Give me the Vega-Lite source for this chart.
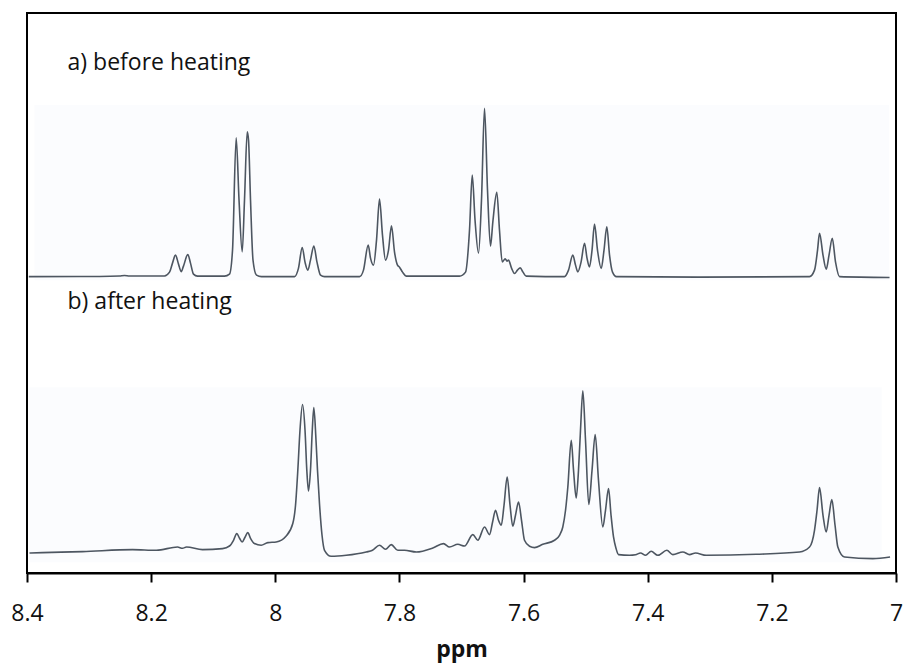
{
  "$schema": "https://vega.github.io/schema/vega-lite/v6.json",
  "width": 869,
  "height": 560,
  "autosize": {"type": "none"},
  "padding": {"left": 27, "top": 13, "right": 8, "bottom": 95},
  "background": "white",
  "config": {
    "view": {"stroke": "black", "strokeWidth": 2},
    "font": "Open Sans"
  },
  "datasets": {
    "spectra": [
      {"t": "a", "ppm": 8.3971, "v": 296.2},
      {"t": "a", "ppm": 8.2832, "v": 296.4},
      {"t": "a", "ppm": 8.2510, "v": 296.9},
      {"t": "a", "ppm": 8.2429, "v": 297.4},
      {"t": "a", "ppm": 8.2349, "v": 296.9},
      {"t": "a", "ppm": 8.1785, "v": 296.9},
      {"t": "a", "ppm": 8.1704, "v": 300.7},
      {"t": "a", "ppm": 8.1656, "v": 309.7},
      {"t": "a", "ppm": 8.1608, "v": 317.7},
      {"t": "a", "ppm": 8.1559, "v": 308.7},
      {"t": "a", "ppm": 8.1516, "v": 301.2},
      {"t": "a", "ppm": 8.1479, "v": 306.7},
      {"t": "a", "ppm": 8.1409, "v": 318.4},
      {"t": "a", "ppm": 8.1366, "v": 309.7},
      {"t": "a", "ppm": 8.1318, "v": 298.7},
      {"t": "a", "ppm": 8.1253, "v": 296.7},
      {"t": "a", "ppm": 8.0818, "v": 296.7},
      {"t": "a", "ppm": 8.0738, "v": 298.7},
      {"t": "a", "ppm": 8.0689, "v": 322.7},
      {"t": "a", "ppm": 8.0630, "v": 435.0},
      {"t": "a", "ppm": 8.0584, "v": 372.7},
      {"t": "a", "ppm": 8.0533, "v": 321.0},
      {"t": "a", "ppm": 8.0496, "v": 372.7},
      {"t": "a", "ppm": 8.0452, "v": 441.0},
      {"t": "a", "ppm": 8.0431, "v": 432.7},
      {"t": "a", "ppm": 8.0399, "v": 372.7},
      {"t": "a", "ppm": 8.0359, "v": 312.7},
      {"t": "a", "ppm": 8.0303, "v": 297.7},
      {"t": "a", "ppm": 8.0222, "v": 296.2},
      {"t": "a", "ppm": 7.9690, "v": 296.2},
      {"t": "a", "ppm": 7.9626, "v": 304.7},
      {"t": "a", "ppm": 7.9566, "v": 325.4},
      {"t": "a", "ppm": 7.9521, "v": 310.7},
      {"t": "a", "ppm": 7.9476, "v": 302.7},
      {"t": "a", "ppm": 7.9433, "v": 312.7},
      {"t": "a", "ppm": 7.9379, "v": 326.7},
      {"t": "a", "ppm": 7.9328, "v": 310.7},
      {"t": "a", "ppm": 7.9271, "v": 297.7},
      {"t": "a", "ppm": 7.9207, "v": 296.2},
      {"t": "a", "ppm": 7.8643, "v": 296.2},
      {"t": "a", "ppm": 7.8579, "v": 302.7},
      {"t": "a", "ppm": 7.8503, "v": 327.7},
      {"t": "a", "ppm": 7.8466, "v": 314.7},
      {"t": "a", "ppm": 7.8418, "v": 307.7},
      {"t": "a", "ppm": 7.8369, "v": 332.7},
      {"t": "a", "ppm": 7.8321, "v": 373.7},
      {"t": "a", "ppm": 7.8273, "v": 337.7},
      {"t": "a", "ppm": 7.8224, "v": 312.7},
      {"t": "a", "ppm": 7.8176, "v": 322.7},
      {"t": "a", "ppm": 7.8128, "v": 347.0},
      {"t": "a", "ppm": 7.8079, "v": 320.7},
      {"t": "a", "ppm": 7.8031, "v": 307.7},
      {"t": "a", "ppm": 7.7999, "v": 305.7},
      {"t": "a", "ppm": 7.7950, "v": 300.7},
      {"t": "a", "ppm": 7.7886, "v": 296.7},
      {"t": "a", "ppm": 7.7032, "v": 296.7},
      {"t": "a", "ppm": 7.6935, "v": 300.7},
      {"t": "a", "ppm": 7.6871, "v": 342.7},
      {"t": "a", "ppm": 7.6827, "v": 397.7},
      {"t": "a", "ppm": 7.6782, "v": 352.7},
      {"t": "a", "ppm": 7.6726, "v": 319.7},
      {"t": "a", "ppm": 7.6678, "v": 372.7},
      {"t": "a", "ppm": 7.6629, "v": 464.4},
      {"t": "a", "ppm": 7.6581, "v": 382.7},
      {"t": "a", "ppm": 7.6533, "v": 326.7},
      {"t": "a", "ppm": 7.6495, "v": 351.0},
      {"t": "a", "ppm": 7.6431, "v": 380.4},
      {"t": "a", "ppm": 7.6388, "v": 342.7},
      {"t": "a", "ppm": 7.6344, "v": 311.0},
      {"t": "a", "ppm": 7.6296, "v": 314.0},
      {"t": "a", "ppm": 7.6267, "v": 311.7},
      {"t": "a", "ppm": 7.6243, "v": 312.7},
      {"t": "a", "ppm": 7.6194, "v": 304.7},
      {"t": "a", "ppm": 7.6146, "v": 299.4},
      {"t": "a", "ppm": 7.6098, "v": 302.7},
      {"t": "a", "ppm": 7.6054, "v": 305.0},
      {"t": "a", "ppm": 7.6009, "v": 300.7},
      {"t": "a", "ppm": 7.5957, "v": 296.7},
      {"t": "a", "ppm": 7.5340, "v": 296.2},
      {"t": "a", "ppm": 7.5276, "v": 302.7},
      {"t": "a", "ppm": 7.5207, "v": 317.7},
      {"t": "a", "ppm": 7.5163, "v": 307.7},
      {"t": "a", "ppm": 7.5126, "v": 301.0},
      {"t": "a", "ppm": 7.5074, "v": 310.7},
      {"t": "a", "ppm": 7.5018, "v": 329.4},
      {"t": "a", "ppm": 7.4978, "v": 314.7},
      {"t": "a", "ppm": 7.4938, "v": 306.0},
      {"t": "a", "ppm": 7.4897, "v": 322.7},
      {"t": "a", "ppm": 7.4857, "v": 348.7},
      {"t": "a", "ppm": 7.4809, "v": 322.7},
      {"t": "a", "ppm": 7.4749, "v": 304.4},
      {"t": "a", "ppm": 7.4704, "v": 322.7},
      {"t": "a", "ppm": 7.4659, "v": 346.0},
      {"t": "a", "ppm": 7.4615, "v": 317.7},
      {"t": "a", "ppm": 7.4567, "v": 300.7},
      {"t": "a", "ppm": 7.4503, "v": 296.2},
      {"t": "a", "ppm": 7.3165, "v": 295.7},
      {"t": "a", "ppm": 7.1393, "v": 296.2},
      {"t": "a", "ppm": 7.1313, "v": 302.7},
      {"t": "a", "ppm": 7.1264, "v": 322.7},
      {"t": "a", "ppm": 7.1232, "v": 339.4},
      {"t": "a", "ppm": 7.1176, "v": 317.7},
      {"t": "a", "ppm": 7.1124, "v": 303.7},
      {"t": "a", "ppm": 7.1079, "v": 317.7},
      {"t": "a", "ppm": 7.1027, "v": 334.4},
      {"t": "a", "ppm": 7.0974, "v": 310.7},
      {"t": "a", "ppm": 7.0910, "v": 296.2},
      {"t": "a", "ppm": 7.0104, "v": 295.4},

      {"t": "b", "ppm": 8.3960, "v": 20.0},
      {"t": "b", "ppm": 8.3750, "v": 20.4},
      {"t": "b", "ppm": 8.3106, "v": 21.4},
      {"t": "b", "ppm": 8.2300, "v": 23.4},
      {"t": "b", "ppm": 8.1914, "v": 22.7},
      {"t": "b", "ppm": 8.1575, "v": 26.0},
      {"t": "b", "ppm": 8.1495, "v": 24.7},
      {"t": "b", "ppm": 8.1430, "v": 26.0},
      {"t": "b", "ppm": 8.1173, "v": 23.4},
      {"t": "b", "ppm": 8.0850, "v": 24.4},
      {"t": "b", "ppm": 8.0738, "v": 27.0},
      {"t": "b", "ppm": 8.0673, "v": 32.7},
      {"t": "b", "ppm": 8.0620, "v": 39.4},
      {"t": "b", "ppm": 8.0576, "v": 34.7},
      {"t": "b", "ppm": 8.0533, "v": 31.0},
      {"t": "b", "ppm": 8.0488, "v": 35.7},
      {"t": "b", "ppm": 8.0443, "v": 40.4},
      {"t": "b", "ppm": 8.0399, "v": 34.7},
      {"t": "b", "ppm": 8.0335, "v": 29.4},
      {"t": "b", "ppm": 8.0227, "v": 27.7},
      {"t": "b", "ppm": 8.0120, "v": 30.4},
      {"t": "b", "ppm": 7.9985, "v": 31.0},
      {"t": "b", "ppm": 7.9824, "v": 37.0},
      {"t": "b", "ppm": 7.9718, "v": 49.4},
      {"t": "b", "ppm": 7.9674, "v": 67.7},
      {"t": "b", "ppm": 7.9637, "v": 102.7},
      {"t": "b", "ppm": 7.9602, "v": 142.7},
      {"t": "b", "ppm": 7.9561, "v": 168.4},
      {"t": "b", "ppm": 7.9521, "v": 142.7},
      {"t": "b", "ppm": 7.9492, "v": 102.7},
      {"t": "b", "ppm": 7.9465, "v": 82.0},
      {"t": "b", "ppm": 7.9433, "v": 102.7},
      {"t": "b", "ppm": 7.9404, "v": 142.7},
      {"t": "b", "ppm": 7.9379, "v": 165.4},
      {"t": "b", "ppm": 7.9344, "v": 132.7},
      {"t": "b", "ppm": 7.9320, "v": 102.7},
      {"t": "b", "ppm": 7.9288, "v": 69.4},
      {"t": "b", "ppm": 7.9247, "v": 37.7},
      {"t": "b", "ppm": 7.9207, "v": 22.7},
      {"t": "b", "ppm": 7.9099, "v": 16.7},
      {"t": "b", "ppm": 7.8857, "v": 17.7},
      {"t": "b", "ppm": 7.8535, "v": 21.0},
      {"t": "b", "ppm": 7.8434, "v": 22.7},
      {"t": "b", "ppm": 7.8321, "v": 27.7},
      {"t": "b", "ppm": 7.8224, "v": 23.7},
      {"t": "b", "ppm": 7.8132, "v": 28.4},
      {"t": "b", "ppm": 7.8026, "v": 22.7},
      {"t": "b", "ppm": 7.7918, "v": 22.7},
      {"t": "b", "ppm": 7.7730, "v": 21.0},
      {"t": "b", "ppm": 7.7462, "v": 25.0},
      {"t": "b", "ppm": 7.7290, "v": 29.4},
      {"t": "b", "ppm": 7.7193, "v": 26.0},
      {"t": "b", "ppm": 7.7059, "v": 28.7},
      {"t": "b", "ppm": 7.6951, "v": 27.0},
      {"t": "b", "ppm": 7.6818, "v": 38.4},
      {"t": "b", "ppm": 7.6737, "v": 32.7},
      {"t": "b", "ppm": 7.6629, "v": 46.0},
      {"t": "b", "ppm": 7.6549, "v": 38.4},
      {"t": "b", "ppm": 7.6500, "v": 50.7},
      {"t": "b", "ppm": 7.6452, "v": 62.7},
      {"t": "b", "ppm": 7.6404, "v": 52.7},
      {"t": "b", "ppm": 7.6360, "v": 47.7},
      {"t": "b", "ppm": 7.6315, "v": 67.7},
      {"t": "b", "ppm": 7.6264, "v": 96.0},
      {"t": "b", "ppm": 7.6218, "v": 67.7},
      {"t": "b", "ppm": 7.6173, "v": 46.7},
      {"t": "b", "ppm": 7.6130, "v": 57.7},
      {"t": "b", "ppm": 7.6081, "v": 71.0},
      {"t": "b", "ppm": 7.6033, "v": 52.7},
      {"t": "b", "ppm": 7.5985, "v": 32.7},
      {"t": "b", "ppm": 7.5904, "v": 26.7},
      {"t": "b", "ppm": 7.5824, "v": 25.4},
      {"t": "b", "ppm": 7.5690, "v": 28.7},
      {"t": "b", "ppm": 7.5501, "v": 32.7},
      {"t": "b", "ppm": 7.5421, "v": 37.7},
      {"t": "b", "ppm": 7.5368, "v": 46.0},
      {"t": "b", "ppm": 7.5324, "v": 62.7},
      {"t": "b", "ppm": 7.5287, "v": 86.0},
      {"t": "b", "ppm": 7.5232, "v": 132.7},
      {"t": "b", "ppm": 7.5195, "v": 102.7},
      {"t": "b", "ppm": 7.5152, "v": 75.0},
      {"t": "b", "ppm": 7.5115, "v": 102.7},
      {"t": "b", "ppm": 7.5083, "v": 142.7},
      {"t": "b", "ppm": 7.5045, "v": 182.0},
      {"t": "b", "ppm": 7.5002, "v": 132.7},
      {"t": "b", "ppm": 7.4949, "v": 68.4},
      {"t": "b", "ppm": 7.4897, "v": 102.7},
      {"t": "b", "ppm": 7.4846, "v": 138.4},
      {"t": "b", "ppm": 7.4793, "v": 92.7},
      {"t": "b", "ppm": 7.4723, "v": 46.0},
      {"t": "b", "ppm": 7.4680, "v": 62.7},
      {"t": "b", "ppm": 7.4631, "v": 84.4},
      {"t": "b", "ppm": 7.4591, "v": 57.7},
      {"t": "b", "ppm": 7.4551, "v": 36.0},
      {"t": "b", "ppm": 7.4511, "v": 24.7},
      {"t": "b", "ppm": 7.4470, "v": 18.4},
      {"t": "b", "ppm": 7.4293, "v": 17.7},
      {"t": "b", "ppm": 7.4196, "v": 18.2},
      {"t": "b", "ppm": 7.4116, "v": 20.0},
      {"t": "b", "ppm": 7.4035, "v": 17.7},
      {"t": "b", "ppm": 7.3944, "v": 21.7},
      {"t": "b", "ppm": 7.3837, "v": 17.7},
      {"t": "b", "ppm": 7.3692, "v": 22.7},
      {"t": "b", "ppm": 7.3595, "v": 18.4},
      {"t": "b", "ppm": 7.3434, "v": 21.0},
      {"t": "b", "ppm": 7.3326, "v": 18.4},
      {"t": "b", "ppm": 7.3230, "v": 20.0},
      {"t": "b", "ppm": 7.3057, "v": 17.7},
      {"t": "b", "ppm": 7.2252, "v": 18.7},
      {"t": "b", "ppm": 7.1554, "v": 21.0},
      {"t": "b", "ppm": 7.1393, "v": 26.0},
      {"t": "b", "ppm": 7.1313, "v": 42.7},
      {"t": "b", "ppm": 7.1272, "v": 62.7},
      {"t": "b", "ppm": 7.1232, "v": 85.4},
      {"t": "b", "ppm": 7.1176, "v": 57.7},
      {"t": "b", "ppm": 7.1124, "v": 41.0},
      {"t": "b", "ppm": 7.1079, "v": 57.7},
      {"t": "b", "ppm": 7.1034, "v": 73.4},
      {"t": "b", "ppm": 7.0982, "v": 47.7},
      {"t": "b", "ppm": 7.0937, "v": 26.0},
      {"t": "b", "ppm": 7.0829, "v": 16.0},
      {"t": "b", "ppm": 7.0373, "v": 14.4},
      {"t": "b", "ppm": 7.0096, "v": 16.0}
    ],
    "labels": [
      {"ppm": 8.3347, "v": 502.7, "label": "a) before heating"},
      {"ppm": 8.3347, "v": 264.0, "label": "b) after heating"}
    ],
    "panels": [
      {"x1": 8.388, "x2": 7.011, "y1": 292.7, "y2": 467.7},
      {"x1": 8.396, "x2": 7.023, "y1": 10.7, "y2": 185.7}
    ]
  },
  "layer": [
    {
      "data": {"name": "panels"},
      "mark": {"type": "rect", "fill": "#fbfcfe", "stroke": null},
      "encoding": {
        "x": {"field": "x1", "type": "quantitative", "scale": {"domain": [7, 8.4], "reverse": true, "nice": false, "zero": false}},
        "x2": {"field": "x2"},
        "y": {"field": "y1", "type": "quantitative", "scale": {"domain": [0, 559.7], "nice": false, "zero": false}, "axis": null},
        "y2": {"field": "y2"}
      }
    },
    {
      "data": {"name": "spectra"},
      "mark": {"type": "line", "interpolate": "monotone", "stroke": "#4d5661", "strokeWidth": 1.6, "strokeJoin": "round"},
      "encoding": {
        "x": {
          "field": "ppm", "type": "quantitative",
          "scale": {"domain": [7, 8.4], "reverse": true, "nice": false, "zero": false},
          "axis": {
            "title": "ppm",
            "values": [8.4, 8.2, 8, 7.8, 7.6, 7.4, 7.2, 7],
            "format": "~g",
            "grid": false,
            "labelFlush": false,
            "labelOverlap": false,
            "labelFontSize": 23,
            "labelFont": "Open Sans",
            "labelColor": "#111111",
            "labelPadding": 20,
            "tickSize": 9,
            "tickWidth": 2,
            "tickColor": "black",
            "domainColor": "black",
            "domainWidth": 2,
            "titleFont": "Open Sans",
            "titleFontSize": 23,
            "titleFontWeight": "bold",
            "titleColor": "#111111",
            "titleBaseline": "alphabetic",
            "titleY": 83
          }
        },
        "y": {"field": "v", "type": "quantitative", "scale": {"domain": [0, 559.7], "nice": false, "zero": false}, "axis": null},
        "detail": {"field": "t"}
      }
    },
    {
      "data": {"name": "labels"},
      "mark": {"type": "text", "align": "left", "baseline": "alphabetic", "font": "Open Sans", "fontSize": 23, "color": "#111111"},
      "encoding": {
        "x": {"field": "ppm", "type": "quantitative"},
        "y": {"field": "v", "type": "quantitative"},
        "text": {"field": "label"}
      }
    }
  ]
}
